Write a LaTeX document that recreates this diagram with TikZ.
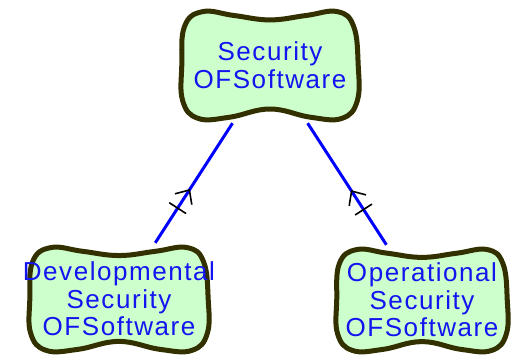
\documentclass[tikz,border=0pt]{standalone}
\usepackage{fontspec}
\setsansfont{Liberation Sans}[LetterSpace=6]
\usetikzlibrary{arrows.meta,decorations.markings,backgrounds}

\definecolor{blobfill}{RGB}{204,255,204}
\definecolor{blobline}{RGB}{51,48,0}
\definecolor{textblue}{RGB}{20,20,240}

% wavy outline round a node: #1 node, #2 half width, #3 half height
\newcommand{\blobaround}[3]{%
  \draw[blob, shift={(#1.center)}, xscale=#2, yscale=#3]
    plot[smooth cycle, tension=0.7] coordinates {
      (-0.80,0.97) (-0.45,0.95) (0,0.80) (0.45,0.95) (0.80,0.97)
      (0.97,0.65) (0.98,0) (0.93,-0.70) (0.75,-0.97) (0.40,-0.90)
      (0,-0.82) (-0.40,-0.90) (-0.75,-0.97) (-0.95,-0.70) (-0.98,0)
      (-0.97,0.65)};
}

\begin{document}
\begin{tikzpicture}[
    x=1pt, y=-1pt,
    goal/.style={rectangle, inner sep=0pt, align=center, text=textblue,
        font=\sffamily\fontsize{26}{27.5}\selectfont},
    blob/.style={draw=blobline, fill=blobfill, line width=5pt},
    refines/.style={draw=blue, line width=3pt,
        postaction={decorate, decoration={markings,
            mark=at position 0.55 with {\arrowreversed[black, line width=1.6pt]{Straight Barb[length=11pt, width=20pt]}},
            mark=at position 0.71 with {\draw[black, line width=1.6pt] (0,-10) -- (0,10);}}}}
]
\useasboundingbox (0,0) rectangle (512,357);

% Goals
\node[goal, minimum width=186, minimum height=116] (secSw) at (270,65)
    {Security\\OFSoftware};
\node[goal, minimum width=188, minimum height=112] (devSec) at (119,299)
    {Developmental\\Security\\OFSoftware};
\node[goal, minimum width=180, minimum height=110] (opSec) at (422,300)
    {Operational\\Security\\OFSoftware};

\begin{scope}[on background layer]
\blobaround{secSw}{90}{55}
\blobaround{devSec}{91}{53}
\blobaround{opSec}{87}{52}
\end{scope}

% Refinements
\draw[refines] (secSw) -- (devSec);
\draw[refines] (secSw) -- (opSec);

\end{tikzpicture}
\end{document}
